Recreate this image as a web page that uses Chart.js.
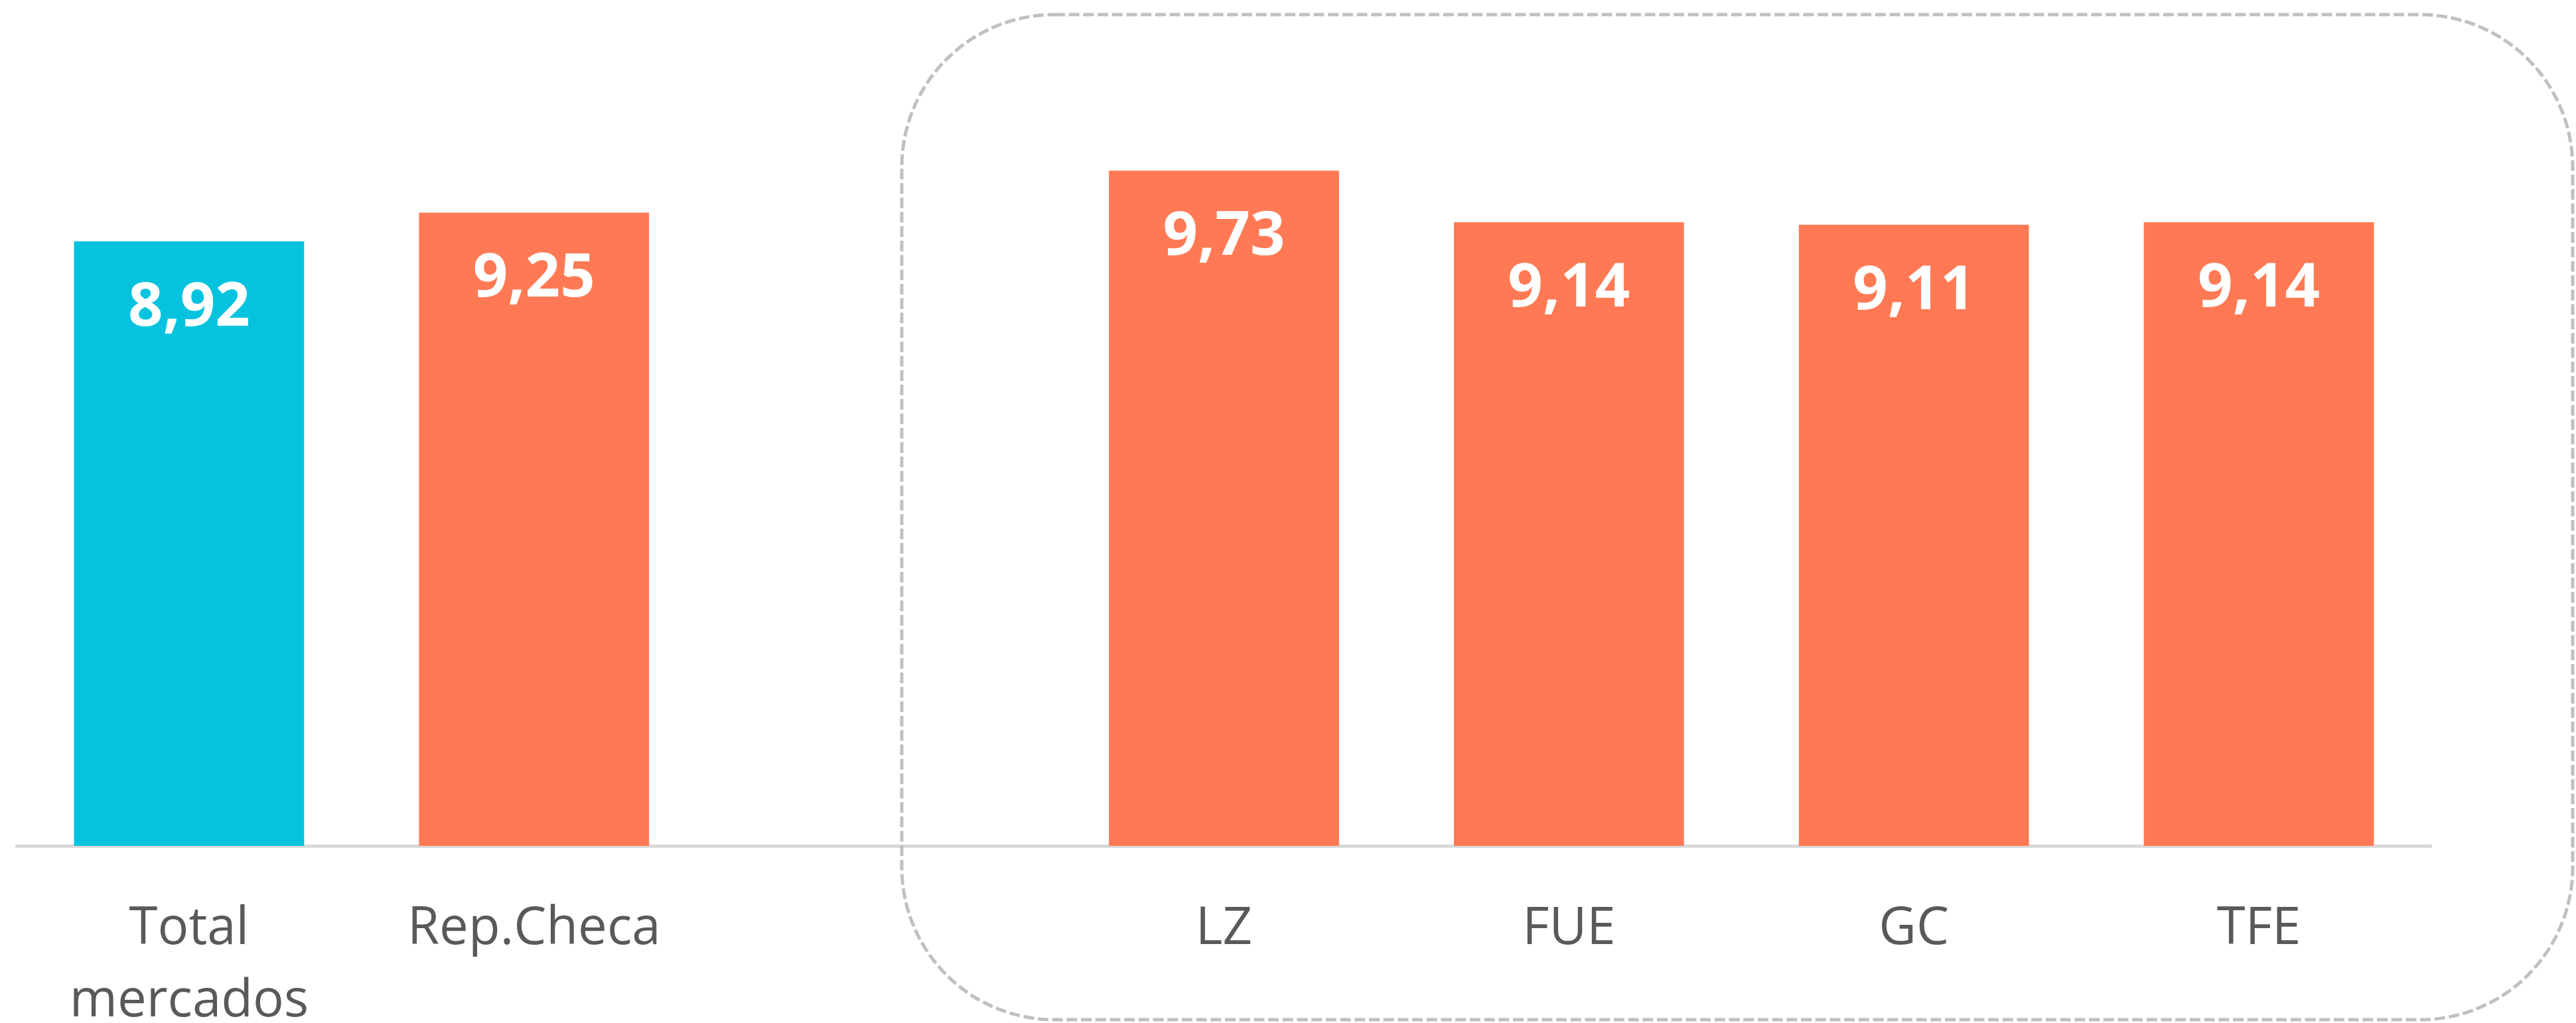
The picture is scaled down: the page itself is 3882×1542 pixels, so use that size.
<!DOCTYPE html>
<html>
<head>
<meta charset="utf-8">
<script src="https://cdn.jsdelivr.net/npm/chart.js@4/dist/chart.umd.min.js"></script>
<style>
  html, body { margin: 0; padding: 0; background: #ffffff; }
  #wrap { width: 3882px; height: 1542px; position: relative; }
</style>
</head>
<body>
<div id="wrap"><canvas id="bar_chart"></canvas></div>
<script>
// DATA
var categories = [['Total', 'mercados'], 'Rep.Checa', '', 'LZ', 'FUE', 'GC', 'TFE'];
var values = [8.92, 9.25, null, 9.73, 9.14, 9.11, 9.14];
var barColors = ['#05C3DE', '#FF7A54', '#FF7A54', '#FF7A54', '#FF7A54', '#FF7A54', '#FF7A54'];

var yMin = 2;
var yMax = 11;

// white value labels inside the top of each bar
const valueLabels = {
    id: 'valueLabels',
    afterDatasetsDraw(chart) {
        var ctx = chart.ctx;
        var meta = chart.getDatasetMeta(0);
        ctx.save();
        ctx.fillStyle = '#ffffff';
        ctx.font = 'bold 92px "Open Sans"';
        ctx.textAlign = 'center';
        ctx.textBaseline = 'alphabetic';
        meta.data.forEach(function(bar, i) {
            var v = values[i];
            if (v === null) return;
            ctx.fillText(v.toFixed(2).replace('.', ','), bar.x, bar.y + 127);
        });
        ctx.restore();
    }
};

// dashed rounded frame around the island group
const groupFrame = {
    id: 'groupFrame',
    afterDraw(chart) {
        var ctx = chart.ctx;
        var x = chart.scales.x;
        var slot = x.getPixelForValue(3) - x.getPixelForValue(2);
        var left = x.getPixelForValue(2) + slot * 0.066;
        var right = chart.width - 5;
        var top = 22;
        var bottom = chart.height - 5;
        var r = 230;
        ctx.save();
        ctx.strokeStyle = '#c0c0c0';
        ctx.lineWidth = 5;
        ctx.setLineDash([16, 5.7]);
        ctx.beginPath();
        ctx.roundRect(left, top, right - left, bottom - top, r);
        ctx.stroke();
        ctx.restore();
    }
};

var ctx = document.getElementById('bar_chart').getContext('2d');

var myChart = new Chart(ctx, {
    type: 'bar',
    data: {
        labels: categories,
        datasets: [{
            data: values,
            backgroundColor: barColors,
            borderWidth: 0,
            categoryPercentage: 1,
            barPercentage: 0.667,
        }]
    },
    options: {
        responsive: true,
        maintainAspectRatio: false,
        animation: false,
        events: [],
        layout: {
            padding: { left: 25, right: 218, top: 90, bottom: 0 },
        },
        plugins: {
            legend: { display: false },
            tooltip: { enabled: false },
        },
        scales: {
            x: {
                grid: { display: false, drawTicks: false },
                border: { display: true, color: '#d9d9d9', width: 5 },
                ticks: {
                    color: '#595959',
                    padding: 71,
                    maxRotation: 0,
                    autoSkip: false,
                    font: { family: '"Open Sans"', size: 78, lineHeight: 1.4 },
                },
                afterFit: function(scale) { scale.height = 267; },
            },
            y: {
                display: false,
                min: yMin,
                max: yMax,
            }
        }
    },
    plugins: [valueLabels, groupFrame],
});
</script>
</body>
</html>
